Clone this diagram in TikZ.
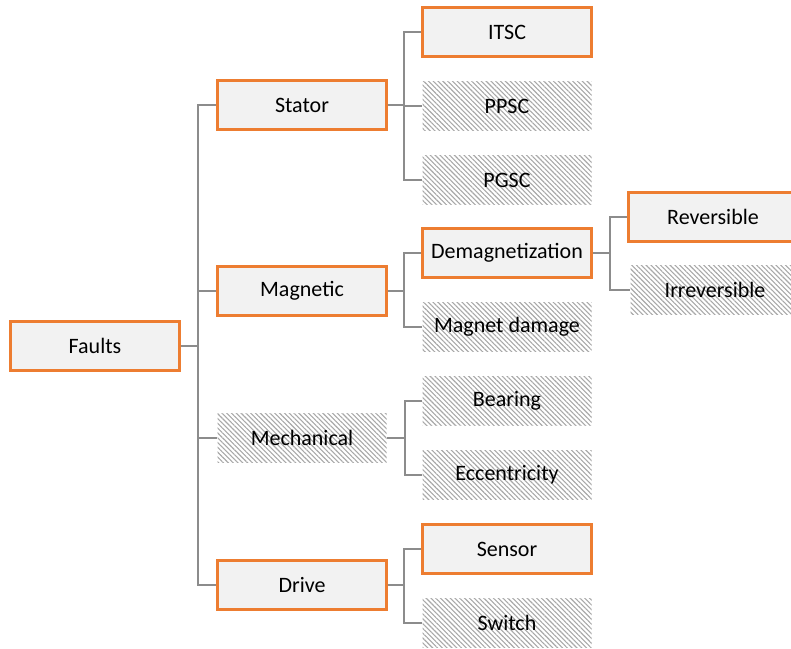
\documentclass[tikz,border=0pt]{standalone}
\usepackage{fontspec}
\setmainfont{Carlito}
\usetikzlibrary{patterns.meta}
\definecolor{boxline}{HTML}{ED7D31}
\definecolor{boxfill}{HTML}{F2F2F2}
\definecolor{linkgray}{HTML}{8C8C8C}
\definecolor{hatchgray}{HTML}{A8A8A8}

\begin{document}
\begin{tikzpicture}[x=1pt,y=-1pt,font=\fontsize{22}{26}\selectfont,
 solidbox/.style={draw=boxline,fill=boxfill,line width=2.6pt,minimum width=169.4pt,minimum height=49.4pt,inner sep=0pt},
 hatchbox/.style={pattern={Lines[angle=-45,distance=3.4pt,line width=1.1pt]},pattern color=hatchgray,minimum width=169pt,minimum height=49pt,inner sep=0pt},
 link/.style={linkgray,line width=2.8pt}]
\clip (0,0) rectangle (791,648);
% Root and first level.
\node[solidbox] (faults) at (95,346) {Faults};
\node[solidbox] (stator) at (302,105) {Stator};
\node[solidbox] (magnetic) at (302,291) {Magnetic};
\node[hatchbox] (mechanical) at (302,438) {Mechanical};
\node[solidbox] (drive) at (302,585) {Drive};
% Second level.
\node[solidbox] (itsc) at (507,32) {ITSC};
\node[hatchbox] (ppsc) at (507,106) {PPSC};
\node[hatchbox] (pgsc) at (507,180) {PGSC};
\node[solidbox] (demag) at (507,253) {Demagnetization};
\node[hatchbox] (magdamage) at (507,327) {Magnet damage};
\node[hatchbox] (bearing) at (507,401) {Bearing};
\node[hatchbox] (eccentric) at (507,475) {Eccentricity};
\node[solidbox] (sensor) at (507,549) {Sensor};
\node[hatchbox] (switch) at (507,623) {Switch};
% Third level.
\node[solidbox] (reversible) at (713,217) {Reversible};
\node[hatchbox] (irreversible) at (715,290) {Irreversible};
% Elbow connectors.
\foreach \kid in {stator,magnetic,mechanical,drive}
 \draw[link] (faults.east) -- ++(17,0) |- (\kid.west);
\foreach \kid in {itsc,ppsc,pgsc}
 \draw[link] (stator.east) -- ++(16,0) |- (\kid.west);
\foreach \kid in {demag,magdamage}
 \draw[link] (magnetic.east) -- ++(16,0) |- (\kid.west);
\foreach \kid in {bearing,eccentric}
 \draw[link] (mechanical.east) -- ++(18,0) |- (\kid.west);
\foreach \kid in {sensor,switch}
 \draw[link] (drive.east) -- ++(16,0) |- (\kid.west);
\foreach \kid in {reversible,irreversible}
 \draw[link] (demag.east) -- ++(17,0) |- (\kid.west);
\end{tikzpicture}
\end{document}
